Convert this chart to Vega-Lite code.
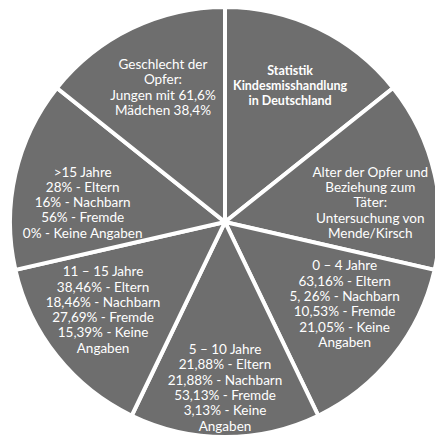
{
  "$schema": "https://vega.github.io/schema/vega-lite/v6.json",
  "width": 420,
  "height": 430,
  "autosize": {"type": "none"},
  "padding": {"left": 15, "top": 7, "right": 0, "bottom": 0},
  "background": "white",
  "config": {"view": {"stroke": null}, "text": {"font": "Lato", "fontSize": 13.5, "lineHeight": 15.3, "fill": "white", "align": "center", "baseline": "middle", "lineBreak": "\n"}},
  "data": {
    "values": [
      {"idx": 1, "value": 1, "label": "Statistik\nKindesmisshandlung\nin Deutschland"},
      {"idx": 2, "value": 1, "label": "Alter der Opfer und\nBeziehung zum\nTäter:\nUntersuchung von\nMende/Kirsch"},
      {"idx": 3, "value": 1, "label": "0 – 4 Jahre\n63,16% - Eltern\n5, 26% - Nachbarn\n10,53% - Fremde\n21,05% - Keine\nAngaben"},
      {"idx": 4, "value": 1, "label": "5 – 10 Jahre\n21,88% - Eltern\n21,88% - Nachbarn\n53,13% - Fremde\n3,13% - Keine\nAngaben"},
      {"idx": 5, "value": 1, "label": "11 – 15 Jahre\n38,46% - Eltern\n18,46% - Nachbarn\n27,69% - Fremde\n15,39% - Keine\nAngaben"},
      {"idx": 6, "value": 1, "label": ">15 Jahre\n28% - Eltern\n16% - Nachbarn\n56% - Fremde\n0% - Keine Angaben"},
      {"idx": 7, "value": 1, "label": "Geschlecht der\nOpfer:\nJungen mit 61,6%\nMädchen 38,4%"}
    ]
  },
  "resolve": {"scale": {"theta": "independent"}},
  "layer": [
    {
      "mark": {"type": "arc", "outerRadius": 215, "fill": "#6e6e6e", "stroke": "white", "strokeWidth": 4},
      "encoding": {
        "theta": {"field": "value", "type": "quantitative", "stack": true},
        "order": {"field": "idx", "type": "quantitative"}
      }
    },
    {
      "transform": [{"filter": "datum.idx == 1"}],
      "mark": {"type": "text", "radius": 150, "dy": -16, "fontWeight": "bold", "fontSize": 12.5},
      "encoding": {
        "theta": {"field": "idx", "type": "quantitative", "scale": {"domain": [0.5, 7.5], "range": [0, 6.283185307], "zero": false, "nice": false}},
        "text": {"field": "label"}
      }
    },
    {
      "transform": [{"filter": "datum.idx == 2"}],
      "mark": {"type": "text", "radius": 149, "dy": -16},
      "encoding": {
        "theta": {"field": "idx", "type": "quantitative", "scale": {"domain": [0.5, 7.5], "range": [0, 6.283185307], "zero": false, "nice": false}},
        "text": {"field": "label"}
      }
    },
    {
      "transform": [{"filter": "datum.idx == 3"}],
      "mark": {"type": "text", "radius": 153, "dy": -51},
      "encoding": {
        "theta": {"field": "idx", "type": "quantitative", "scale": {"domain": [0.5, 7.5], "range": [0, 6.283185307], "zero": false, "nice": false}},
        "text": {"field": "label"}
      }
    },
    {
      "transform": [{"filter": "datum.idx == 4"}],
      "mark": {"type": "text", "radius": 150, "dy": -22},
      "encoding": {
        "theta": {"field": "idx", "type": "quantitative", "scale": {"domain": [0.5, 7.5], "range": [0, 6.283185307], "zero": false, "nice": false}},
        "text": {"field": "label"}
      }
    },
    {
      "transform": [{"filter": "datum.idx == 5"}],
      "mark": {"type": "text", "radius": 156, "dy": -47},
      "encoding": {
        "theta": {"field": "idx", "type": "quantitative", "scale": {"domain": [0.5, 7.5], "range": [0, 6.283185307], "zero": false, "nice": false}},
        "text": {"field": "label"}
      }
    },
    {
      "transform": [{"filter": "datum.idx == 6"}],
      "mark": {"type": "text", "radius": 146, "dy": -17},
      "encoding": {
        "theta": {"field": "idx", "type": "quantitative", "scale": {"domain": [0.5, 7.5], "range": [0, 6.283185307], "zero": false, "nice": false}},
        "text": {"field": "label"}
      }
    },
    {
      "transform": [{"filter": "datum.idx == 7"}],
      "mark": {"type": "text", "radius": 143, "dy": -28},
      "encoding": {
        "theta": {"field": "idx", "type": "quantitative", "scale": {"domain": [0.5, 7.5], "range": [0, 6.283185307], "zero": false, "nice": false}},
        "text": {"field": "label"}
      }
    }
  ]
}
